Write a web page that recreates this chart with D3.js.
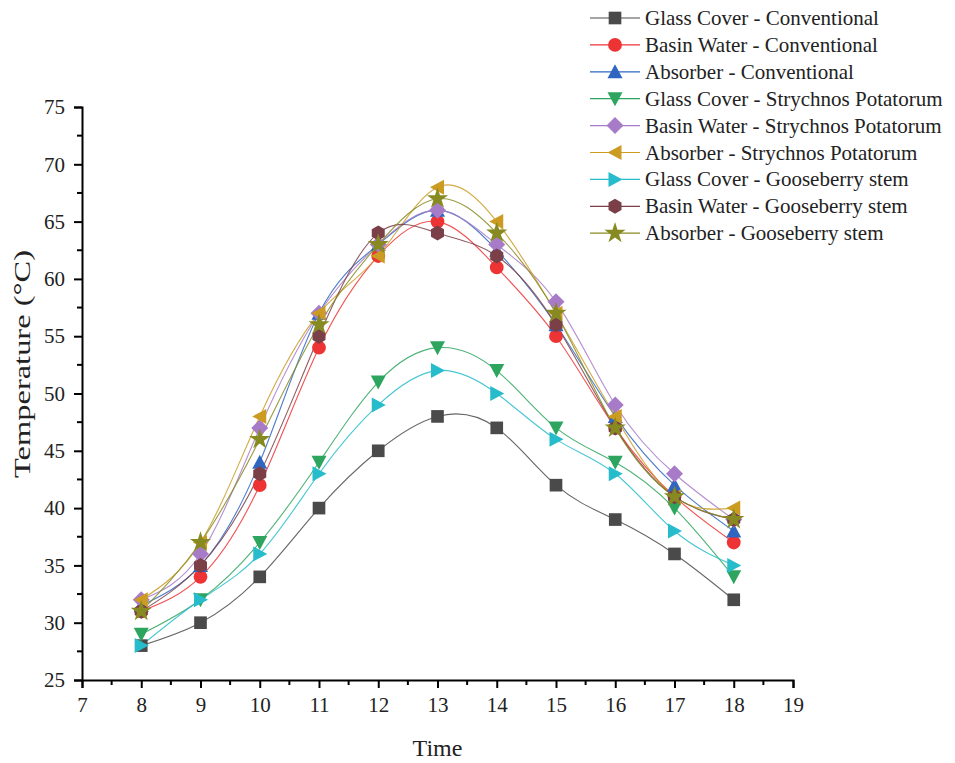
<!DOCTYPE html>
<html>
<head>
<meta charset="utf-8">
<script src="https://cdn.jsdelivr.net/npm/d3@7"></script>
<style>
  body { margin: 0; background: #fff; }
  text { font-family: "Liberation Serif", "Times New Roman", serif; fill: #222; }
</style>
</head>
<body>
<div id="chart"></div>
<script>
// data
let hours = [8, 9, 10, 11, 12, 13, 14, 15, 16, 17, 18];

let seriesNames = [
  "Glass Cover - Conventional",
  "Basin Water - Conventional",
  "Absorber - Conventional",
  "Glass Cover - Strychnos Potatorum",
  "Basin Water - Strychnos Potatorum",
  "Absorber - Strychnos Potatorum",
  "Glass Cover - Gooseberry stem",
  "Basin Water - Gooseberry stem",
  "Absorber - Gooseberry stem"
];

let glassConv   = [28, 30, 34, 40, 45, 48, 47, 42, 39, 36, 32];
let basinConv   = [31, 34, 42, 54, 62, 65, 61, 55, 47, 41, 37];
let absConv     = [31.5, 35, 44, 57, 63, 66, 62.5, 56, 48, 42, 38];
let glassStry   = [29, 32, 37, 44, 51, 54, 52, 47, 44, 40, 34];
let basinStry   = [32, 36, 47, 57, 63, 66, 63, 58, 49, 43, 39];
let absStry     = [32, 37, 48, 57, 62, 68, 65, 57, 48, 41, 40];
let glassGoose  = [28, 32, 36, 43, 49, 52, 50, 46, 43, 38, 35];
let basinGoose  = [31, 35, 43, 55, 64, 64, 62, 56, 47, 41, 39];
let absGoose    = [31, 37, 46, 56, 63, 67, 64, 57, 47, 41, 39];

let xTicks = [7, 8, 9, 10, 11, 12, 13, 14, 15, 16, 17, 18, 19];
let yTicks = [25, 30, 35, 40, 45, 50, 55, 60, 65, 70, 75];

let allValues = [glassConv, basinConv, absConv, glassStry, basinStry,
                 absStry, glassGoose, basinGoose, absGoose];

let colors = ["#4a4a4a", "#ee3334", "#2e66c0", "#2ea55e", "#a77bc8",
              "#cb9b22", "#27bccb", "#7b3f48", "#878a21"];
let shapes = ["square", "circle", "triUp", "triDown", "diamond",
              "triLeft", "triRight", "hexagon", "star"];

////////////////////////////////////////////////////////////////////////
// layout

let width = 955, height = 763;

let xScale = d3.scaleLinear().domain([7, 19]).range([82, 793]);
let yScale = d3.scaleLinear().domain([25, 75]).range([680, 107]);

let svg = d3.select("#chart").append("svg")
    .attr("width", width)
    .attr("height", height);

// marker path generator, centred on 0,0
function markerPath(shape) {
  let r = 7.5;
  switch (shape) {
    case "square":
      return d3.symbol(d3.symbolSquare, 160)();
    case "circle":
      return d3.symbol(d3.symbolCircle, 150)();
    case "diamond":
      return "M0," + (-r - 1) + "L" + (r + 1) + ",0L0," + (r + 1) + "L" + (-r - 1) + ",0Z";
    case "star":
      return d3.symbol(d3.symbolStar, 140)();
    case "hexagon": {
      let pts = d3.range(6).map(i => {
        let a = Math.PI / 6 + i * Math.PI / 3;
        return [r * Math.cos(a), r * Math.sin(a)];
      });
      return "M" + pts.join("L") + "Z";
    }
    case "triUp":
      return "M0," + (-r) + "L" + r + "," + (r - 1) + "L" + (-r) + "," + (r - 1) + "Z";
    case "triDown":
      return "M0," + r + "L" + r + "," + (-r + 1) + "L" + (-r) + "," + (-r + 1) + "Z";
    case "triLeft":
      return "M" + (-r) + ",0L" + (r - 1) + "," + (-r) + "L" + (r - 1) + "," + r + "Z";
    case "triRight":
      return "M" + r + ",0L" + (-r + 1) + "," + (-r) + "L" + (-r + 1) + "," + r + "Z";
  }
}

////////////////////////////////////////////////////////////////////////
// axes

let xAxis = svg.append("g")
    .attr("transform", "translate(0," + yScale(25) + ")")
    .call(d3.axisBottom(xScale).tickValues(xTicks).tickSize(8).tickPadding(9).tickFormat(d3.format("d")));
let yAxis = svg.append("g")
    .attr("transform", "translate(" + xScale(7) + ",0)")
    .call(d3.axisLeft(yScale).tickValues(yTicks).tickSize(8).tickPadding(9));

[xAxis, yAxis].forEach(ax => {
  ax.select(".domain").attr("stroke", "#000").attr("stroke-width", 2);
  ax.selectAll(".tick line").attr("stroke", "#000").attr("stroke-width", 2);
  ax.selectAll(".tick text")
    .attr("font-family", "Liberation Serif")
    .attr("font-size", 21)
    .attr("fill", "#222");
});

// minor ticks
svg.append("g").selectAll("line")
    .data(d3.range(7.5, 19, 1))
    .enter().append("line")
    .attr("x1", d => xScale(d)).attr("x2", d => xScale(d))
    .attr("y1", yScale(25)).attr("y2", yScale(25) + 5)
    .attr("stroke", "#000").attr("stroke-width", 2);
svg.append("g").selectAll("line")
    .data(d3.range(27.5, 75, 5))
    .enter().append("line")
    .attr("x1", xScale(7) - 5).attr("x2", xScale(7))
    .attr("y1", d => yScale(d)).attr("y2", d => yScale(d))
    .attr("stroke", "#000").attr("stroke-width", 2);

svg.append("text")
    .attr("x", (xScale(7) + xScale(19)) / 2)
    .attr("y", 756)
    .attr("text-anchor", "middle")
    .attr("font-size", 24)
    .text("Time");

svg.append("text")
    .attr("transform", "translate(30," + 364 + ") rotate(-90)")
    .attr("text-anchor", "middle")
    .attr("font-size", 24)
    .attr("textLength", 228)
    .attr("lengthAdjust", "spacingAndGlyphs")
    .text("Temperature (\u00B0C)");

////////////////////////////////////////////////////////////////////////
// lines and markers

let line = d3.line()
    .x(d => xScale(d[0]))
    .y(d => yScale(d[1]))
    .curve(d3.curveNatural);

allValues.forEach((vals, i) => {
  let pts = hours.map((h, j) => [h, vals[j]]);
  svg.append("path")
    .attr("d", line(pts))
    .attr("fill", "none")
    .attr("stroke", colors[i])
    .attr("stroke-opacity", 0.85)
    .attr("stroke-width", 1.1);
});

allValues.forEach((vals, i) => {
  svg.append("g").selectAll("path")
    .data(hours.map((h, j) => [h, vals[j]]))
    .enter().append("path")
    .attr("transform", d => "translate(" + xScale(d[0]) + "," + yScale(d[1]) + ")")
    .attr("d", markerPath(shapes[i]))
    .attr("fill", colors[i]);
});

////////////////////////////////////////////////////////////////////////
// legend

let legend = svg.append("g").attr("transform", "translate(590,18)");
seriesNames.forEach((name, i) => {
  let row = legend.append("g").attr("transform", "translate(0," + (i * 26.9) + ")");
  row.append("line")
    .attr("x1", 0).attr("x2", 50)
    .attr("stroke", colors[i]).attr("stroke-width", 1.2);
  row.append("path")
    .attr("transform", "translate(25,0)")
    .attr("d", markerPath(shapes[i]))
    .attr("fill", colors[i]);
  row.append("text")
    .attr("x", 55)
    .attr("y", 7)
    .attr("font-size", 21)
    .text(name);
});
</script>
</body>
</html>
